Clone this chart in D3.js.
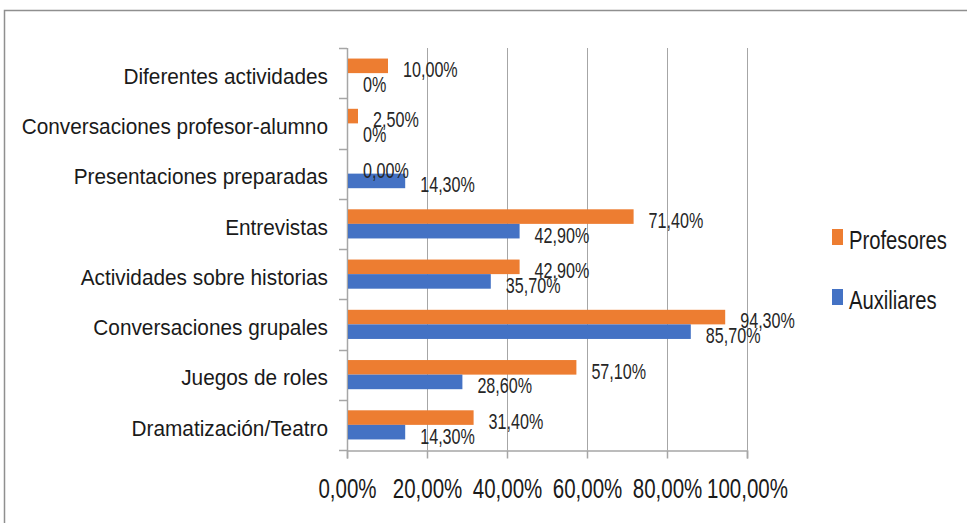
<!DOCTYPE html>
<html>
<head>
<meta charset="utf-8">
<script src="https://cdn.jsdelivr.net/npm/d3@7"></script>
<style>
  body { margin: 0; background: #fff; }
  text { font-family: "Liberation Sans", Arial, sans-serif; }
</style>
</head>
<body>
<svg id="chart" width="967" height="523"></svg>
<script>
// data, top to bottom as in the picture
var categories = ['Diferentes actividades', 'Conversaciones profesor-alumno', 'Presentaciones preparadas',
                  'Entrevistas', 'Actividades sobre historias', 'Conversaciones grupales',
                  'Juegos de roles', 'Dramatización/Teatro'];
var series     = ['Profesores', 'Auxiliares'];
var profesores = [10.0, 2.5, 0.0, 71.4, 42.9, 94.3, 57.1, 31.4];
var auxiliares = [0, 0, 14.3, 42.9, 35.7, 85.7, 28.6, 14.3];
var profLabels = ['10,00%', '2,50%', '0,00%', '71,40%', '42,90%', '94,30%', '57,10%', '31,40%'];
var auxLabels  = ['0%', '0%', '14,30%', '42,90%', '35,70%', '85,70%', '28,60%', '14,30%'];
var xTicks     = [0, 20, 40, 60, 80, 100];
var colors     = { 'Profesores': '#ED7D31', 'Auxiliares': '#4472C4' };

var svg = d3.select('#chart');

// outer frame
svg.append('rect')
	.attr('x', 4.5).attr('y', 10.5)
	.attr('width', 980).attr('height', 530)
	.attr('fill', 'none').attr('stroke', '#8f8f8f').attr('stroke-width', 1.5);

var x = d3.scaleLinear().domain([0, 100]).range([347, 747]);
var y = d3.scaleBand().domain(categories).range([48, 450]).paddingInner(0.42).paddingOuter(0.21);
var yInner = d3.scaleBand().domain(series).range([0, y.bandwidth()]);

// scaled text helper (the source fonts are narrow)
function narrow(sel, sx) {
	sel.attr('transform', function () {
		var t = d3.select(this);
		return 'translate(' + t.attr('data-x') + ',' + t.attr('data-y') + ') scale(' + sx + ',1)';
	});
}

// gridlines
svg.append('g').selectAll('line')
	.data(xTicks.slice(1))
	.join('line')
	.attr('x1', function (d) { return x(d) + 0.5; })
	.attr('x2', function (d) { return x(d) + 0.5; })
	.attr('y1', 48).attr('y2', 450)
	.attr('stroke', '#a6a6a6').attr('stroke-width', 1);

// x axis
var xAxis = svg.append('g')
	.attr('transform', 'translate(0,450.5)')
	.call(d3.axisBottom(x).tickValues(xTicks).tickSize(8).tickFormat(function (d) { return d.toFixed(2).replace('.', ',') + '%'; }));
xAxis.select('.domain').attr('stroke', '#a6a6a6').attr('stroke-width', 1.5);
xAxis.selectAll('.tick line').attr('stroke', '#a6a6a6').attr('stroke-width', 1.5);
xAxis.selectAll('.tick text')
	.attr('y', 0).attr('dy', 0)
	.attr('data-x', 0).attr('data-y', 47)
	.attr('font-size', 27).attr('fill', '#1a1a1a')
	.attr('font-family', '"Liberation Sans", Arial, sans-serif')
	.call(narrow, 0.76);

// y axis line and boundary ticks
var bounds = d3.range(categories.length + 1).map(function (i) { return 48 + i * y.step(); });
svg.append('line')
	.attr('x1', 347.5).attr('x2', 347.5).attr('y1', 48).attr('y2', 451)
	.attr('stroke', '#a6a6a6').attr('stroke-width', 1.5);
svg.append('g').selectAll('line')
	.data(bounds)
	.join('line')
	.attr('x1', 339).attr('x2', 347)
	.attr('y1', function (d) { return Math.round(d) + 0.5; })
	.attr('y2', function (d) { return Math.round(d) + 0.5; })
	.attr('stroke', '#a6a6a6').attr('stroke-width', 1.5);

// category labels
svg.append('g').selectAll('text')
	.data(categories)
	.join('text')
	.attr('data-x', 328)
	.attr('data-y', function (d) { return y(d) + y.bandwidth() / 2 + 3; })
	.attr('text-anchor', 'end')
	.attr('dominant-baseline', 'central')
	.attr('font-size', 22.5)
	.attr('fill', '#1a1a1a')
	.text(function (d) { return d; })
	.call(narrow, 0.925);

// bars
var rows = categories.map(function (c, i) {
	return [
		{ cat: c, s: 'Profesores', v: profesores[i], label: profLabels[i] },
		{ cat: c, s: 'Auxiliares', v: auxiliares[i], label: auxLabels[i] }
	];
});
var flat = d3.merge(rows);

svg.append('g').selectAll('rect')
	.data(flat)
	.join('rect')
	.attr('x', x(0) + 1)
	.attr('y', function (d) { return y(d.cat) + yInner(d.s); })
	.attr('width', function (d) { return Math.max(0, x(d.v) - x(0)); })
	.attr('height', yInner.bandwidth())
	.attr('fill', function (d) { return colors[d.s]; });

// data labels
svg.append('g').selectAll('text')
	.data(flat)
	.join('text')
	.attr('data-x', function (d) { return x(d.v) + 16; })
	.attr('data-y', function (d) { return y(d.cat) + yInner(d.s) + yInner.bandwidth() / 2 + 4; })
	.attr('dominant-baseline', 'central')
	.attr('font-size', 21.5)
	.attr('fill', '#262626')
	.text(function (d) { return d.label; })
	.call(narrow, 0.75);

// legend
var legend = svg.append('g').selectAll('g')
	.data(series)
	.join('g');
legend.append('rect')
	.attr('x', 832)
	.attr('y', function (d, i) { return 229 + i * 60; })
	.attr('width', 11).attr('height', 16)
	.attr('fill', function (d) { return colors[d]; });
legend.append('text')
	.attr('data-x', 849)
	.attr('data-y', function (d, i) { return 240 + i * 60; })
	.attr('dominant-baseline', 'central')
	.attr('font-size', 25)
	.attr('fill', '#1a1a1a')
	.text(function (d) { return d; })
	.call(narrow, 0.81);
</script>
</body>
</html>
